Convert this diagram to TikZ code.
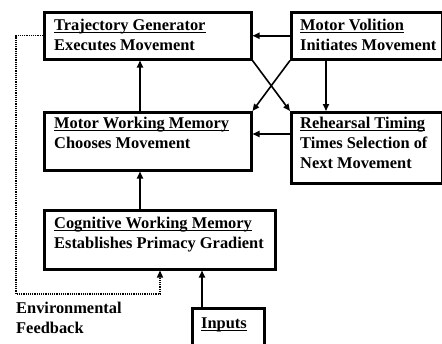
\documentclass[tikz,border=0pt]{standalone}
\usepackage{fontspec}
\setmainfont{Liberation Serif}
\usetikzlibrary{arrows.meta}
\newcommand\myul[1]{\setbox0\hbox{#1}\rlap{\rule[-3pt]{\wd0}{1.3pt}}\box0}
\tikzset{
  box/.style={draw, line width=2.5pt, anchor=north west, inner sep=0pt},
  txt/.style={anchor=base west, inner sep=0pt, font=\fontsize{16.4}{19}\selectfont\bfseries},
  arr/.style={line width=1.6pt, -{Triangle[length=7pt,width=6pt]}},
  fbline/.style={line width=1.2pt, densely dotted, -{Triangle[length=7pt,width=6pt]}}
}
\begin{document}
\begin{tikzpicture}[x=1pt,y=-1pt]
\useasboundingbox (0,0) rectangle (442,343);
\clip (0,0) rectangle (442,343);
% boxes
\node[box, minimum width=207pt, minimum height=47pt] (tg) at (43,11) {};
\node[box, minimum width=151pt, minimum height=47pt] (mv) at (290,11) {};
\node[box, minimum width=207pt, minimum height=58pt] (mwm) at (43,111) {};
\node[box, minimum width=151pt, minimum height=71pt] (rt) at (290,111) {};
\node[box, minimum width=231pt, minimum height=59pt] (cwm) at (43,209) {};
\node[box, minimum width=72pt, minimum height=45pt] (inp) at (191,307) {};
% texts
\node[txt] (tg1) at (54,30) {\myul{Trajectory Generator}};
\node[txt] (tg2) at (54,50) {Executes Movement};
\node[txt] (mv1) at (300,30) {\myul{Motor Volition}};
\node[txt] (mv2) at (300,50) {Initiates Movement};
\node[txt] (mwm1) at (54,128) {\myul{Motor Working Memory}};
\node[txt] (mwm2) at (54,148) {Chooses Movement};
\node[txt] (rt1) at (300,128) {\myul{Rehearsal Timing}};
\node[txt] (rt2) at (300,148) {Times Selection of};
\node[txt] (rt3) at (300,168) {Next Movement};
\node[txt] (cwm1) at (54,228) {\myul{Cognitive Working Memory}};
\node[txt] (cwm2) at (54,248) {Establishes Primacy Gradient};
\node[txt] (inp1) at (201,328) {\myul{Inputs}};
\node[txt] (ef1) at (16,313) {Environmental};
\node[txt] (ef2) at (16,333) {Feedback};
% connectors
\draw[arr] (mv.west) -- (tg.east);
\draw[arr] ([xshift=36pt]mv.south west) -- ([xshift=36pt]rt.north west);
\draw[arr] ([yshift=-23pt]rt.north west) -- ([yshift=-23pt]mwm.north east);
\draw[arr] ([xshift=97pt]mwm.north west) -- ([xshift=97pt]tg.south west);
\draw[arr] ([xshift=97pt]cwm.north west) -- ([xshift=97pt]mwm.south west);
\draw[arr] ([xshift=11pt]inp.north west) -- ([xshift=11pt]inp.north west |- cwm.south);
\draw[arr] (tg.south east) -- (rt.north west);
\draw[arr] (mv.south west) -- (mwm.north east);
\coordinate (fb) at (16,294);
\coordinate (fbx) at ([xshift=117pt]cwm.south west);
\draw[fbline] (tg.west) -| (fb) -| (fbx);
\end{tikzpicture}
\end{document}
